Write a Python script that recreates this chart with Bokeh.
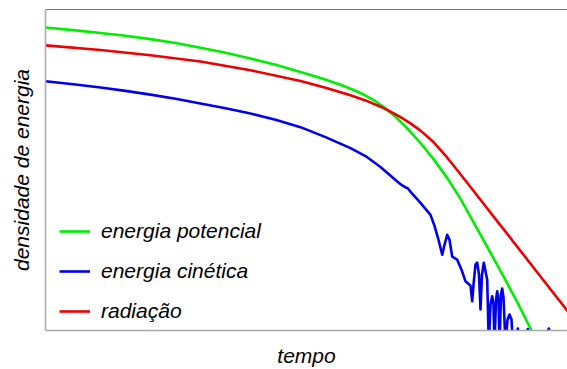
from bokeh.plotting import figure
from bokeh.models import LinearAxis, FixedTicker, Range1d, Legend, LegendItem
from bokeh.embed import file_html
from bokeh.resources import INLINE

# tempo (arbitrary units) and energy density (arbitrary units)
t_pot = [0, 0.3, 0.55, 0.8, 1.05, 1.3, 1.55, 1.8, 2.05, 2.3, 2.55, 2.75, 2.95, 3.10, 3.20, 3.30, 3.40, 3.50,
         3.60, 3.75, 3.88, 4.02, 4.15, 4.30, 4.45, 4.60, 4.73, 4.85, 4.95]
e_pot = [3.04, 3.011, 2.985, 2.956, 2.923, 2.884, 2.837, 2.786, 2.729, 2.665, 2.593, 2.533, 2.465, 2.405, 2.357, 2.30, 2.228, 2.143,
         2.046, 1.881, 1.719, 1.526, 1.32, 1.05, 0.78, 0.505, 0.26, 0.02, -0.17]

t_rad = [0, 0.55, 1.05, 1.55, 2.05, 2.55, 2.80, 3.05, 3.20, 3.35, 3.45, 3.55, 3.65, 3.75, 3.88, 4.00, 4.12,
         4.25, 4.40, 4.55, 4.85, 5.22, 5.35]
e_rad = [2.86, 2.813, 2.761, 2.698, 2.611, 2.503, 2.435, 2.36, 2.308, 2.245, 2.195, 2.14, 2.078, 2.005, 1.89, 1.755, 1.605,
         1.44, 1.247, 1.055, 0.67, 0.195, 0.03]

t_kin = [0, 0.3, 0.55, 0.8, 1.05, 1.3, 1.55, 1.8, 2.05, 2.3, 2.55, 2.8, 3.05, 3.2, 3.35, 3.50, 3.56, 3.60, 3.62, 3.66,
         3.75, 3.85, 3.89, 3.93,
         3.967, 3.99, 4.017, 4.04, 4.067, 4.117, 4.16, 4.20, 4.25, 4.267, 4.28, 4.30, 4.317, 4.335, 4.35,
         4.365, 4.383, 4.417, 4.433, 4.45, 4.467, 4.48, 4.49, 4.505, 4.517, 4.53, 4.54, 4.555, 4.567, 4.58,
         4.60, 4.62, 4.64, 4.66, 4.673, 4.70, 4.723, 4.745, 4.80, 4.823, 4.845, 5.00, 5.033, 5.06, 5.25]
e_kin = [2.50, 2.468, 2.438, 2.404, 2.366, 2.324, 2.278, 2.229, 2.176, 2.114, 2.04, 1.94, 1.83, 1.75, 1.64, 1.51, 1.46, 1.435, 1.43, 1.38,
         1.28, 1.16, 1.05, 0.91,
         0.76, 0.86, 0.96, 0.91, 0.74, 0.71, 0.61, 0.493, 0.45, 0.293, 0.46, 0.66, 0.68, 0.56, 0.21,
         0.56, 0.68, 0.51, -0.14, 0.26, 0.343, 0.26, -0.14, 0.31, 0.393, 0.31, -0.14, 0.36, 0.42, 0.33,
         -0.14, 0.11, 0.16, 0.11, -0.14, -0.09, 0.02, -0.09, -0.09, 0.015, -0.09, -0.09, 0.02, -0.09, -0.14]

labels = ["energia potencial", "energia cinética", "radiação"]
x_label = "tempo"
y_label = "densidade de energia"

FONT = "Liberation Sans"

p = figure(width=567, height=369, output_backend="svg", toolbar_location=None,
           x_range=Range1d(0, 5.22), y_range=Range1d(0, 3.22),
           min_border_left=45, min_border_right=0, min_border_top=9, min_border_bottom=38,
           x_axis_type=None, y_axis_type=None)
p.outline_line_color = None
p.xgrid.visible = False
p.ygrid.visible = False
p.background_fill_color = "white"
p.border_fill_color = "white"

def make_axis(label, color, width):
    ax = LinearAxis(ticker=FixedTicker(ticks=[]), axis_label=label)
    ax.axis_line_color = color
    ax.axis_line_width = width
    ax.major_tick_line_color = None
    ax.minor_tick_line_color = None
    ax.major_label_text_font_size = "0px"
    ax.axis_label_text_font = FONT
    ax.axis_label_text_font_style = "italic"
    ax.axis_label_text_font_size = "21px"
    ax.axis_label_text_color = "black"
    return ax

bx = make_axis(x_label, "#a8a8a8", 1.6)
bx.axis_label_standoff = 13
p.add_layout(bx, "below")
ly = make_axis(y_label, "#acacac", 1.6)
ly.axis_label_standoff = 13
p.add_layout(ly, "left")
tx = make_axis(None, "#7a7a7a", 1.2)
p.add_layout(tx, "above")

r_pot = p.line(t_pot, e_pot, line_color="#00ee00", line_width=2.6, line_join="round")
r_kin = p.line(t_kin, e_kin, line_color="#0000ee", line_width=2.6, line_join="round")
r_rad = p.line(t_rad, e_rad, line_color="#ee0000", line_width=2.6, line_join="round")

legend = Legend(items=[LegendItem(label=labels[0], renderers=[r_pot]),
                       LegendItem(label=labels[1], renderers=[r_kin]),
                       LegendItem(label=labels[2], renderers=[r_rad])],
                location=(14, 7), padding=0, margin=0, spacing=16,
                glyph_width=31, glyph_height=22, label_height=22, label_standoff=11,
                border_line_color=None, background_fill_alpha=0)
legend.label_text_font = FONT
legend.label_text_font_style = "italic"
legend.label_text_font_size = "21px"
legend.label_text_color = "black"
p.add_layout(legend, "center")

open("out.html", "w").write(file_html(p, INLINE))
